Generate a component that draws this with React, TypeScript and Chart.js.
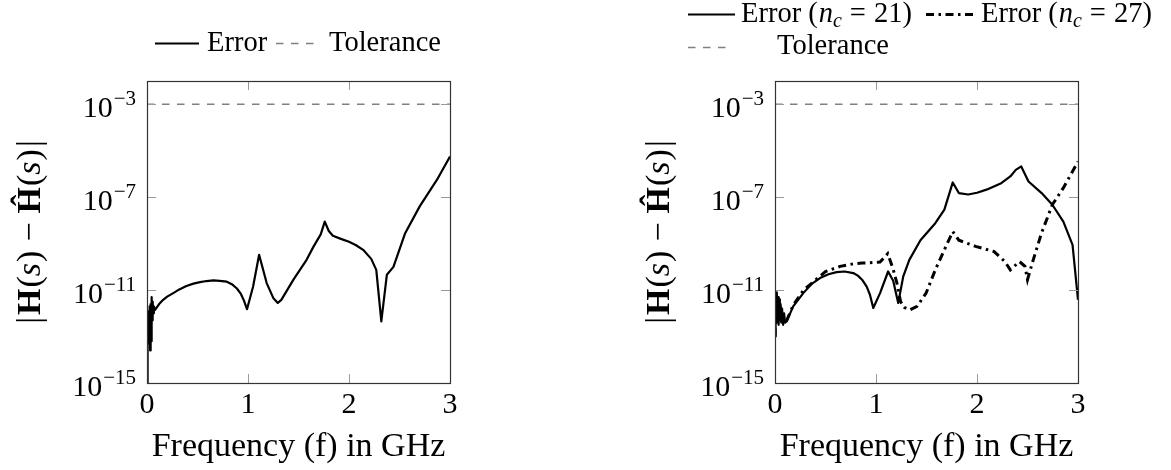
import React, { useEffect, useRef } from "react";
import { Chart, registerables } from "chart.js";

Chart.register(...registerables);

const FONT = "'Liberation Serif', 'Times New Roman', serif";
const H = 470;

// ---------- axis ticks ----------
const xTicks = [0, 1, 2, 3];
const yTickValues = [1e-3, 1e-7, 1e-11, 1e-15];
const yTickExponents = ["−3", "−7", "−11", "−15"];

// ---------- tolerance ----------
const tolFreq = [0, 3];
const tolValues = [1e-3, 1e-3];

// ---------- left panel: Error ----------
const leftFreq = [
  0, 0.006, 0.011, 0.016, 0.021, 0.026, 0.031, 0.036, 0.041, 0.046, 0.051, 0.056, 0.062, 0.068,
  0.08, 0.12, 0.16, 0.2, 0.26, 0.32, 0.39, 0.46, 0.525, 0.59, 0.657, 0.72, 0.79, 0.84, 0.89, 0.93,
  0.96, 0.99, 1.05, 1.11, 1.185, 1.25, 1.295, 1.33, 1.45, 1.58, 1.65, 1.72, 1.76, 1.8, 1.84, 1.92,
  2.0, 2.07, 2.14, 2.22, 2.27, 2.32, 2.375, 2.44, 2.556, 2.7, 2.87, 3.0,
];
const leftError = [
  1.0e-15, 6.3e-13, 1.0e-13, 1.26e-12, 5.0e-14, 2.0e-12, 2.5e-14, 2.5e-12, 6.3e-14, 5.0e-12, 5.0e-13,
  3.2e-12, 1.0e-12, 2.0e-12, 1.4e-12, 2.5e-12, 3.8e-12, 5.2e-12, 7.4e-12, 1.07e-11, 1.5e-11, 1.9e-11,
  2.2e-11, 2.45e-11, 2.6e-11, 2.5e-11, 2.3e-11, 1.8e-11, 1.17e-11, 6.8e-12, 3.5e-12, 1.5e-12, 1.4e-11,
  3.3e-10, 2.0e-11, 4.6e-12, 2.8e-12, 3.8e-12, 2.8e-11, 2.0e-10, 7.6e-10, 2.5e-9, 8.9e-9, 3.5e-9,
  2.2e-9, 1.6e-9, 1.2e-9, 8.5e-10, 5.4e-10, 2.2e-10, 7.4e-11, 4.5e-13, 4.6e-11, 1.0e-10, 2.8e-9,
  4.0e-8, 5.5e-7, 5.6e-6,
];

// ---------- right panel: Error (n_c = 21) ----------
const rightFreq21 = [
  0, 0.006, 0.012, 0.018, 0.024, 0.03, 0.036, 0.042, 0.048, 0.055, 0.062, 0.07, 0.08, 0.09, 0.1,
  0.116, 0.18, 0.28, 0.36, 0.446, 0.53, 0.61, 0.69, 0.775, 0.82, 0.862, 0.908, 0.94, 0.973, 1.04,
  1.12, 1.17, 1.22, 1.27, 1.33, 1.44, 1.587, 1.677, 1.76, 1.82, 1.913, 2.0, 2.094, 2.24, 2.33, 2.384,
  2.438, 2.51, 2.64, 2.746, 2.855, 2.946, 3.0,
];
const rightError21 = [
  1.0e-13, 6.3e-12, 4.0e-13, 7.9e-12, 6.3e-13, 5.0e-12, 3.2e-13, 4.0e-12, 5.0e-13, 2.5e-12, 4.0e-13,
  1.6e-12, 3.2e-13, 1.0e-12, 4.0e-13, 4.5e-13, 2.0e-12, 7.4e-12, 1.8e-11, 3.3e-11, 4.8e-11, 5.9e-11,
  6.3e-11, 5.4e-11, 4.2e-11, 2.8e-11, 1.4e-11, 6.3e-12, 1.7e-12, 7.4e-12, 6.3e-11, 2.5e-11, 2.8e-12,
  3.9e-11, 2.0e-10, 1.4e-9, 7.6e-9, 2.9e-8, 4.3e-7, 1.5e-7, 1.3e-7, 1.55e-7, 2.1e-7, 4.0e-7, 7.8e-7,
  1.5e-6, 2.1e-6, 4.7e-7, 1.5e-7, 4.7e-8, 8.9e-9, 8.9e-10, 3.8e-12,
];

// ---------- right panel: Error (n_c = 27) ----------
const rightFreq27 = [
  0, 0.006, 0.012, 0.018, 0.024, 0.03, 0.04, 0.05, 0.062, 0.08, 0.1, 0.116, 0.18, 0.283, 0.5, 0.645,
  0.775, 0.862, 1.04, 1.116, 1.17, 1.207, 1.243, 1.279, 1.333, 1.406, 1.496, 1.587, 1.677, 1.76,
  1.82, 1.986, 2.167, 2.275, 2.33, 2.42, 2.475, 2.5, 2.547, 2.638, 2.746, 2.855, 3.0,
];
const rightError27 = [
  1.0e-13, 5.0e-12, 5.0e-13, 6.3e-12, 4.0e-13, 3.2e-12, 5.0e-13, 2.5e-12, 5.0e-13, 4.0e-13, 5.0e-13,
  5.0e-13, 2.2e-12, 1.0e-11, 6.3e-11, 1.05e-10, 1.35e-10, 1.45e-10, 1.6e-10, 3.7e-10, 7.9e-11,
  2.0e-11, 3.2e-12, 1.8e-12, 1.4e-12, 2.0e-12, 7.4e-12, 7.4e-11, 5.4e-10, 3.3e-9, 1.4e-9, 7.6e-10,
  4.6e-10, 1.7e-10, 7.4e-11, 1.7e-10, 1.05e-10, 2.8e-11, 1.45e-10, 2.8e-9, 4.7e-8, 2.5e-7, 3.4e-6,
];

// ---------- rich text helpers ----------
type Seg = { t: string; f?: "n" | "i" | "b"; s?: number; dy?: number; gap?: number };

function fontOf(g: Seg, size: number) {
  const sz = size * (g.s ?? 1);
  const st = g.f === "i" ? "italic " : "";
  const w = g.f === "b" ? "bold " : "";
  return `${st}${w}${sz}px ${FONT}`;
}
function richWidth(ctx: CanvasRenderingContext2D, segs: Seg[], size: number) {
  let w = 0;
  for (const g of segs) {
    ctx.font = fontOf(g, size);
    w += (g.gap ?? 0) + ctx.measureText(g.t).width;
  }
  return w;
}
function drawRich(ctx: CanvasRenderingContext2D, x: number, y: number, segs: Seg[], size: number) {
  let cx = x;
  for (const g of segs) {
    cx += g.gap ?? 0;
    ctx.font = fontOf(g, size);
    ctx.fillText(g.t, cx, y + (g.dy ?? 0));
    cx += ctx.measureText(g.t).width;
  }
  return cx;
}

const yTitleSegs: Seg[] = [
  { t: "|" },
  { t: "H", f: "b", gap: 2 },
  { t: "(", gap: 1 },
  { t: "s", f: "i" },
  { t: ")", gap: 1 },
  { t: "−", gap: 9 },
  { t: "Ĥ", f: "b", gap: 9 },
  { t: "(", gap: 1 },
  { t: "s", f: "i" },
  { t: ")", gap: 1 },
  { t: "|", gap: 2 },
];

type LegendItem = {
  ds: number;
  x0: number;
  x1: number;
  ly: number;
  tx: number;
  ty: number;
  segs: Seg[];
};

type PanelProps = {
  left: number;
  width: number;
  area: { left: number; right: number; top: number; bottom: number };
  datasets: any[];
  legend: LegendItem[];
  yTitleX: number;
};

const LEG_SIZE = 28.5;
const TICK_SIZE = 30;

function Panel({ left, width, area, datasets, legend, yTitleX }: PanelProps) {
  const ref = useRef<HTMLCanvasElement>(null);
  useEffect(() => {
    const canvas = ref.current!;
    const decor = {
      id: "decor",
      afterDraw(chart: any) {
        const ctx: CanvasRenderingContext2D = chart.ctx;
        const ca = chart.chartArea;
        const xs = chart.scales.x;
        const ys = chart.scales.y;
        ctx.save();
        // inner tick marks
        ctx.strokeStyle = "#9a9a9a";
        ctx.lineWidth = 1;
        const tl = 9;
        for (const v of xTicks) {
          const px = Math.round(xs.getPixelForValue(v)) + 0.5;
          ctx.beginPath();
          ctx.moveTo(px, ca.bottom);
          ctx.lineTo(px, ca.bottom - tl);
          ctx.moveTo(px, ca.top);
          ctx.lineTo(px, ca.top + tl);
          ctx.stroke();
        }
        for (const v of yTickValues) {
          const py = Math.round(ys.getPixelForValue(v)) + 0.5;
          ctx.beginPath();
          ctx.moveTo(ca.left, py);
          ctx.lineTo(ca.left + tl, py);
          ctx.moveTo(ca.right, py);
          ctx.lineTo(ca.right - tl, py);
          ctx.stroke();
        }
        // frame
        ctx.strokeStyle = "#333";
        ctx.lineWidth = 1.2;
        ctx.strokeRect(Math.round(ca.left) + 0.5, Math.round(ca.top) + 0.5, Math.round(ca.right - ca.left), Math.round(ca.bottom - ca.top));
        // y tick labels 10^{exp}
        ctx.fillStyle = "#000";
        ctx.textBaseline = "alphabetic";
        ctx.textAlign = "left";
        yTickValues.forEach((v, i) => {
          const py = ys.getPixelForValue(v);
          const segs: Seg[] = [
            { t: "10" },
            { t: yTickExponents[i], s: 0.7, dy: -12, gap: 1 },
          ];
          const w = richWidth(ctx, segs, TICK_SIZE);
          drawRich(ctx, ca.left - 11 - w, py + 13, segs, TICK_SIZE);
        });
        // y axis title (rotated)
        ctx.save();
        const cy = (ca.top + ca.bottom) / 2;
        ctx.translate(yTitleX, cy);
        ctx.rotate(-Math.PI / 2);
        ctx.textBaseline = "middle";
        const tw = richWidth(ctx, yTitleSegs, 34);
        drawRich(ctx, -tw / 2, 0, yTitleSegs, 34);
        ctx.restore();
        // legend
        for (const it of legend) {
          const ds = chart.data.datasets[it.ds];
          ctx.save();
          ctx.strokeStyle = ds.borderColor;
          ctx.lineWidth = ds.borderWidth;
          ctx.setLineDash(ds.borderDash || []);
          ctx.beginPath();
          ctx.moveTo(it.x0, it.ly);
          ctx.lineTo(it.x1, it.ly);
          ctx.stroke();
          ctx.restore();
          ctx.fillStyle = "#000";
          ctx.textBaseline = "alphabetic";
          drawRich(ctx, it.tx, it.ty, it.segs, LEG_SIZE);
        }
        ctx.restore();
      },
    };

    const chart = new Chart(canvas, {
      type: "line",
      data: { datasets },
      options: {
        responsive: false,
        animation: false,
        devicePixelRatio: 1,
        layout: { padding: { left: 0, right: width - area.right, top: area.top, bottom: 0 } },
        plugins: { legend: { display: false }, tooltip: { enabled: false } },
        elements: { point: { radius: 0 }, line: { tension: 0 } },
        scales: {
          x: {
            type: "linear",
            min: 0,
            max: 3,
            afterFit: (s: any) => {
              s.height = H - area.bottom;
            },
            grid: { display: false, drawTicks: false },
            border: { display: false },
            ticks: {
              stepSize: 1,
              color: "#000",
              font: { family: FONT, size: TICK_SIZE },
              padding: 4,
              maxRotation: 0,
              autoSkip: false,
            },
            title: {
              display: true,
              text: "Frequency (f) in GHz",
              color: "#000",
              font: { family: FONT, size: 34, lineHeight: 1.2 },
              padding: { top: 0, bottom: 3 },
            },
          },
          y: {
            type: "logarithmic",
            min: 1e-15,
            max: 1e-2,
            afterFit: (s: any) => {
              s.width = area.left;
            },
            ticks: { display: false },
            grid: { display: false },
            border: { display: false },
          },
        },
      } as any,
      plugins: [decor],
    });
    return () => chart.destroy();
  }, []);
  return (
    <canvas
      ref={ref}
      width={width}
      height={H}
      style={{ position: "absolute", left, top: 0, width, height: H, display: "block" }}
    />
  );
}

const toPts = (xs: number[], ys: number[]) => xs.map((x, i) => ({ x, y: ys[i] }));

const solidStyle = { borderColor: "#000", borderWidth: 2.2, borderDash: [] as number[], fill: false, borderJoinStyle: "round" };
const tolStyle = { borderColor: "#808080", borderWidth: 1.6, borderDash: [7.5, 7.5], fill: false };
const dashDotStyle = { borderColor: "#000", borderWidth: 3, borderDash: [8, 4.5, 2.5, 4.5], fill: false };

export default function App() {
  const leftDatasets = [
    { label: "Error", data: toPts(leftFreq, leftError), ...solidStyle },
    { label: "Tolerance", data: toPts(tolFreq, tolValues), ...tolStyle },
  ];
  const rightDatasets = [
    { label: "Error (n_c = 21)", data: toPts(rightFreq21, rightError21), ...solidStyle },
    { label: "Error (n_c = 27)", data: toPts(rightFreq27, rightError27), ...dashDotStyle },
    { label: "Tolerance", data: toPts(tolFreq, tolValues), ...tolStyle },
  ];
  const leftLegend: LegendItem[] = [
    { ds: 0, x0: 155, x1: 199, ly: 43.5, tx: 207, ty: 51, segs: [{ t: "Error" }] },
    { ds: 1, x0: 276, x1: 316, ly: 43.5, tx: 329, ty: 51, segs: [{ t: "Tolerance" }] },
  ];
  const R = 585;
  const ncSegs = (n: string): Seg[] => [
    { t: "Error (" },
    { t: "n", f: "i", gap: 1 },
    { t: "c", f: "i", s: 0.7, dy: 5 },
    { t: "=", gap: 8 },
    { t: n + ")", gap: 8 },
  ];
  const rightLegend: LegendItem[] = [
    { ds: 0, x0: 688 - R, x1: 735 - R, ly: 14.5, tx: 741 - R, ty: 22, segs: ncSegs("21") },
    { ds: 1, x0: 926 - R, x1: 975 - R, ly: 14.5, tx: 981 - R, ty: 22, segs: ncSegs("27") },
    { ds: 2, x0: 688 - R, x1: 728 - R, ly: 47.5, tx: 777 - R, ty: 54, segs: [{ t: "Tolerance" }] },
  ];
  return (
    <div style={{ position: "absolute", left: 0, top: 0, width: 1171, height: H, background: "#fff" }}>
      <Panel
        left={0}
        width={585}
        area={{ left: 147, right: 450, top: 81, bottom: 383 }}
        datasets={leftDatasets}
        legend={leftLegend}
        yTitleX={31}
      />
      <Panel
        left={R}
        width={586}
        area={{ left: 775 - R, right: 1078 - R, top: 81, bottom: 383 }}
        datasets={rightDatasets}
        legend={rightLegend}
        yTitleX={660 - R}
      />
    </div>
  );
}
